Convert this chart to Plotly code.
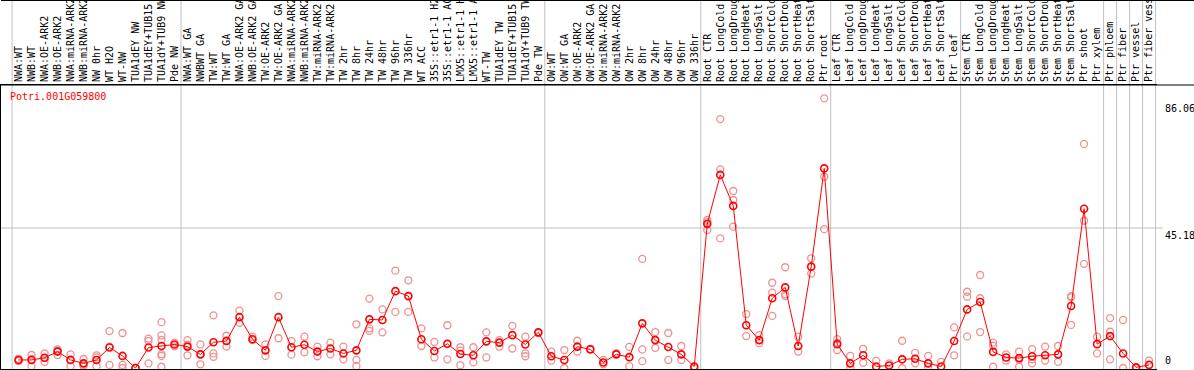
import plotly.graph_objects as go

gene = "Potri.001G059800"

labels = [
    "NWA:WT", "NWB:WT", "NWA:OE-ARK2", "NWB:OE-ARK2", "NWA:miRNA-ARK2", "NWB:miRNA-ARK2",
    "NW 0hr", "WT H2O", "WT-NW", "TUA1dEY NW", "TUA1dEY+TUB15", "TUA1dY+TUB9 NW", "Pde NW",
    "NWA:WT GA", "NWBWT GA", "TW:WT", "TW:WT GA", "NWA:OE-ARK2 GA", "NWB:OE-ARK2 GA",
    "TW:OE-ARK2", "TW:OE-ARK2 GA", "NWA:miRNA-ARK2", "NWB:miRNA-ARK2", "TW:miRNA-ARK2",
    "TW:miRNA-ARK2", "TW 2hr", "TW 8hr", "TW 24hr", "TW 48hr", "TW 96hr", "TW 336hr",
    "WT ACC", "35S::etr1-1 H2O", "35S::etr1-1 ACC", "LMX5::etr1-1 H2O", "LMX5::etr1-1 ACC",
    "WT-TW", "TUA1dEY TW", "TUA1dEY+TUB15", "TUA1dY+TUB9 TW", "Pde TW",
    "OW:WT", "OW:WT GA", "OW:OE-ARK2", "OW:OE-ARK2 GA", "OW:miRNA-ARK2", "OW:miRNA-ARK2",
    "OW 2hr", "OW 8hr", "OW 24hr", "OW 48hr", "OW 96hr", "OW 336hr",
    "Root CTR", "Root LongCold", "Root LongDrought", "Root LongHeat", "Root LongSalt",
    "Root ShortCold", "Root ShortDrought", "Root ShortHeat", "Root ShortSalt", "Ptr root",
    "Leaf CTR", "Leaf LongCold", "Leaf LongDrought", "Leaf LongHeat", "Leaf LongSalt",
    "Leaf ShortCold", "Leaf ShortDrought", "Leaf ShortHeat", "Leaf ShortSalt", "Ptr leaf",
    "Stem CTR", "Stem LongCold", "Stem LongDrought", "Stem LongHeat", "Stem LongSalt",
    "Stem ShortCold", "Stem ShortDrought", "Stem ShortHeat", "Stem ShortSalt", "Ptr shoot",
    "Ptr xylem", "Ptr phloem", "Ptr fiber", "Ptr vessel", "Ptr fiber vessel",
]

means = [
    2.6, 2.6, 3.3, 5.3, 2.6, 1.5, 2.6, 6.6, 3.9, 0.0, 6.6, 7.1, 7.6,
    6.9, 4.4, 8.3, 8.7, 16.4, 9.3, 5.7, 16.4, 6.7, 7.5, 5.3, 6.3, 4.7, 5.7,
    15.7, 15.5, 24.8, 23.2, 9.3, 5.5, 7.8, 4.5, 4.1, 8.6, 8.2, 10.6, 7.6, 11.5,
    3.8, 2.6, 6.9, 6.0, 1.8, 4.4, 3.5, 14.4, 9.0, 6.8, 4.4, 0.5,
    46.5, 62.3, 52.3, 13.8, 9.0, 22.5, 26.0, 7.1, 32.7, 64.4,
    7.7, 1.5, 4.1, 0.5, 0.8, 2.8, 3.0, 1.5, 0.5, 8.7,
    18.9, 21.3, 5.2, 3.4, 3.2, 3.8, 4.1, 4.4, 20.0, 51.4,
    7.7, 10.3, 4.7, 0.2, 1.0,
]

reps = [
    [2.2, 3.0], [4.2, 0.6, 2.9], [4.7, 2.0, 3.2], [6.0, 4.2, 5.6], [4.4, 0.6, 2.8],
    [2.9, 0.6, 1.0], [4.1, 3.4, 0.6], [11.9, 1.0, 6.9], [11.3, 1.0, 0.0], [0.0, 0.0],
    [8.7, 1.5, 9.5], [14.8, 10.5, 9.1, 4.5, 3.9, 0.4], [8.2, 7.0], [9.0, 4.1, 7.5],
    [7.6, 1.2, 4.4], [17.0, 4.7, 3.6], [10.4, 6.9, 8.9], [18.5, 14.6], [10.1, 9.0],
    [7.6, 3.9], [23.2, 9.6], [8.7, 4.3], [10.1, 5.1], [6.9, 3.8], [8.2, 4.4],
    [6.9, 2.8], [14.1, 2.6, 0.6], [22.4, 12.8, 12.0], [18.9, 11.5], [31.4, 18.1],
    [28.3, 18.1], [12.8, 7.1], [8.4, 3.4], [13.8, 2.8], [6.7, 5.6, 0.9], [6.7, 1.8],
    [11.5, 3.4], [9.0, 6.9], [13.6, 6.3], [10.1, 4.7, 3.8], [11.3],
    [5.3, 2.4], [5.8, 0.0], [8.8, 5.3], [6.2], [2.6, 1.2], [4.8], [6.8, 0.6],
    [35.2, 6.0, 2.2], [11.6, 6.5], [11.3, 2.6], [7.1, 2.6], [0.0],
    [47.8, 44.5, 47.2], [80.3, 64.1, 41.8], [57.1, 54.2, 45.6], [17.4, 10.3],
    [10.6, 8.0], [27.5, 24.3, 16.8], [32.5, 23.2, 23.8], [10.1, 5.3], [35.4, 30.5],
    [87.0, 61.7, 44.8],
    [9.3, 5.8, 8.2], [3.9, 0.2], [6.2, 1.7], [2.3], [1.5], [8.8, 0.0], [4.9, 1.5],
    [3.9, 0.3], [2.0], [13.1, 4.1],
    [24.6, 23.0, 10.2], [30.0, 22.5, 11.6], [8.2, 7.2, 0.4], [4.4, 2.4], [5.3, 0.4, 2.6],
    [6.1, 1.5, 2.8], [6.9, 2.4], [7.1, 2.0], [23.2, 22.8, 13.9], [72.3, 47.5, 33.6],
    [10.1, 4.7], [16.1, 11.7, 2.8], [15.5, 0.0], [0.0], [2.4],
]

group_edges = [-0.5, 12.5, 40.5, 52.5, 62.5, 72.5, 83.5, 84.5, 85.5, 86.5, 87.5]
y_tick_vals = [86.06, 45.18, 0]
y_tick_text = ["86.06", "45.18", "0"]

MONO = "DejaVu Sans Mono"
x = list(range(len(labels)))
rx, ry = [], []
for i, vals in enumerate(reps):
    for v in vals:
        rx.append(i)
        ry.append(v)

fig = go.Figure()
fig.add_trace(go.Scatter(
    x=rx, y=ry, mode="markers",
    marker=dict(symbol="circle-open", size=7, color="#ee9090", line=dict(width=1.3)),
    hoverinfo="skip",
))
fig.add_trace(go.Scatter(
    x=x, y=means, mode="lines+markers",
    line=dict(color="#ff0000", width=1),
    marker=dict(symbol="circle-open", size=7, color="#ff0000", line=dict(width=1.6)),
))

shapes = []
for e in group_edges:
    shapes.append(dict(type="line", xref="x", yref="paper", x0=e, x1=e, y0=0, y1=1.31,
                       line=dict(color="#c0c0c0", width=1), layer="below"))
# extension of the header rule and top border
shapes.append(dict(type="line", xref="paper", yref="paper", x0=0, x1=1.04, y0=1, y1=1,
                   line=dict(color="black", width=1)))
shapes.append(dict(type="line", xref="paper", yref="paper", x0=0, x1=1.04, y0=1.2975, y1=1.2975,
                   line=dict(color="black", width=1)))
shapes.append(dict(type="line", xref="paper", yref="y", x0=0, x1=1.005, y0=45.18, y1=45.18,
                   line=dict(color="#c0c0c0", width=1), layer="below"))

annotations = [dict(text=gene, xref="paper", yref="paper", x=0.006, y=0.958,
                    xanchor="left", yanchor="middle", showarrow=False,
                    font=dict(family=MONO, size=10, color="#ff0000"))]
for v, t in zip(y_tick_vals, y_tick_text):
    annotations.append(dict(text=t, xref="paper", yref="y", x=1.0055, y=v,
                            xanchor="left", yanchor="bottom" if v == 0 else "top",
                            showarrow=False, font=dict(family=MONO, size=10, color="black")))

fig.update_layout(
    width=1194, height=370,
    margin=dict(l=1, r=37, t=85, b=1, pad=0),
    paper_bgcolor="white", plot_bgcolor="white",
    showlegend=False,
    shapes=shapes, annotations=annotations,
    xaxis=dict(range=[-1.35, 87.61], side="top", tickmode="array", tickvals=x, ticktext=labels,
               tickangle=-90, tickfont=dict(family=MONO, size=10, color="black"),
               showgrid=False, zeroline=False, showline=True, mirror=True,
               linecolor="black", linewidth=1, ticks="", automargin=False),
    yaxis=dict(range=[-0.32, 91.3], showgrid=False, zeroline=False, showticklabels=False,
               showline=True, linecolor="black", linewidth=1, ticks="", automargin=False),
)

fig.write_html(
    "out.html",
    config={"displayModeBar": False},
    post_script="document.body.style.margin='0';document.body.style.overflow='hidden';",
)
